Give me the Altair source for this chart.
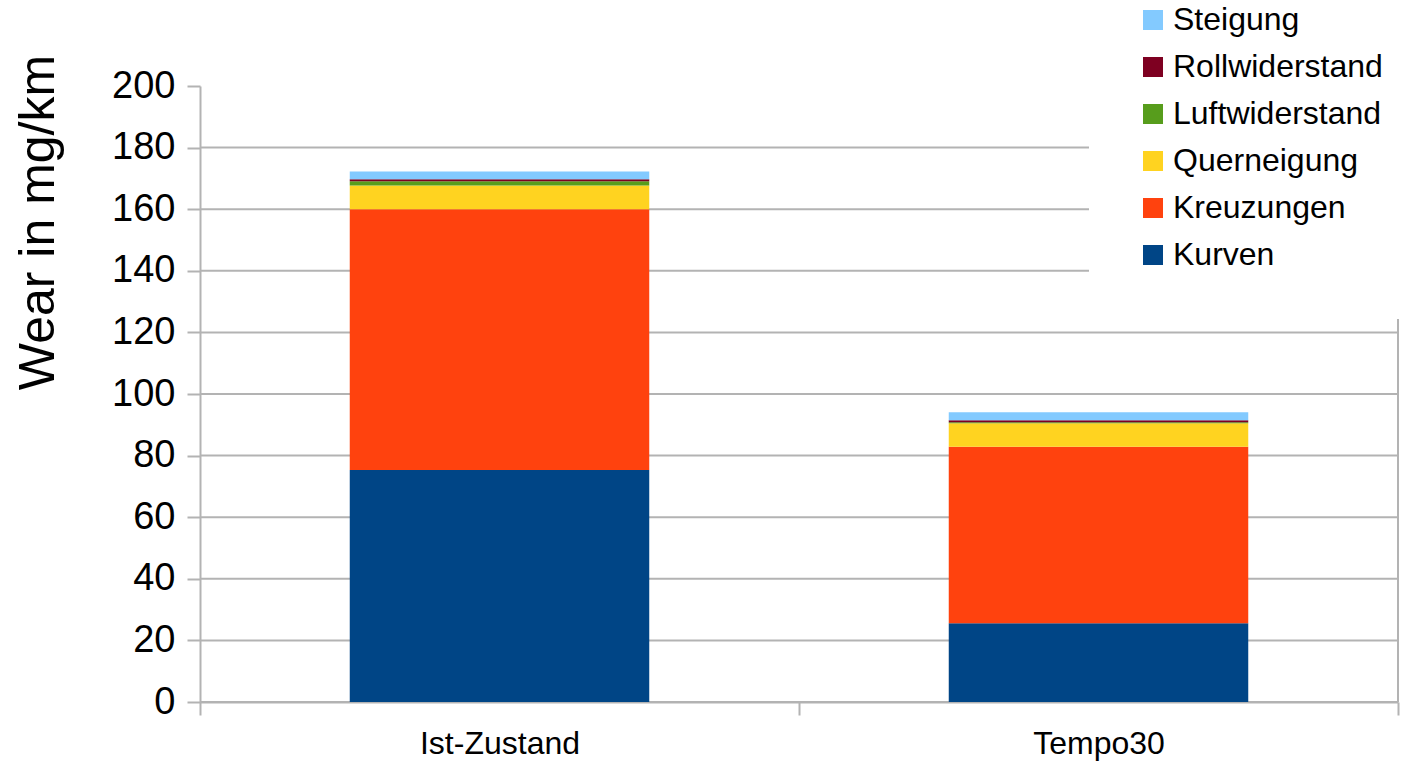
import altair as alt
import pandas as pd

# Scenarios on the x axis
scenarios = ["Ist-Zustand", "Tempo30"]

# Wear contributions in mg/km, listed from the bottom of each stack upwards
components = ["Kurven", "Kreuzungen", "Querneigung", "Luftwiderstand", "Rollwiderstand", "Steigung"]
ist_zustand = [75.3, 84.7, 7.7, 1.4, 0.6, 2.5]
tempo30 = [25.6, 57.3, 7.6, 0.35, 0.65, 2.55]

colors = {
    "Kurven": "#004586",
    "Kreuzungen": "#ff420e",
    "Querneigung": "#ffd320",
    "Luftwiderstand": "#579d1c",
    "Rollwiderstand": "#7e0021",
    "Steigung": "#83caff",
}

grid_values = [0, 20, 40, 60, 80, 100, 120, 140, 160, 180]
y_ticks = [0, 20, 40, 60, 80, 100, 120, 140, 160, 180, 200]

rows = []
for scen, vals in zip(scenarios, [ist_zustand, tempo30]):
    for i, (comp, v) in enumerate(zip(components, vals)):
        rows.append({"Szenario": scen, "Komponente": comp, "Wert": v, "Rang": i})
df = pd.DataFrame(rows)

legend_order = list(reversed(components))

W, H = 1198, 616
FONT = "Liberation Sans"
GRID = "#b3b3b3"

grid = alt.Chart(pd.DataFrame({"g": grid_values})).mark_rule(
    color=GRID, strokeWidth=2
).encode(y=alt.Y("g:Q", scale=alt.Scale(domain=[0, 200])))

bars = alt.Chart(df).mark_bar(strokeWidth=0, width=alt.RelativeBandSize(0.5)).encode(
    x=alt.X(
        "Szenario:N",
        sort=scenarios,
        scale=alt.Scale(paddingInner=0, paddingOuter=0),
        axis=alt.Axis(
            title=None,
            labelAngle=0,
            labelFont=FONT,
            labelFontSize=32,
            labelColor="black",
            labelPadding=13,
            tickBand="extent",
            tickSize=13,
            tickWidth=2,
            tickColor=GRID,
            domainColor=GRID,
            domainWidth=2,
        ),
    ),
    y=alt.Y(
        "sum(Wert):Q",
        stack="zero",
        scale=alt.Scale(domain=[0, 200], nice=False),
        axis=alt.Axis(
            title="Wear in mg/km",
            titleFont=FONT,
            titleFontSize=50,
            titleFontWeight="normal",
            titleColor="black",
            titlePadding=48,
            titleY=136,
            values=y_ticks,
            labelFont=FONT,
            labelFontSize=38,
            labelColor="black",
            labelPadding=12,
            tickSize=13,
            tickWidth=2,
            tickColor=GRID,
            domainColor=GRID,
            domainWidth=2,
            grid=False,
        ),
    ),
    color=alt.Color(
        "Komponente:N",
        scale=alt.Scale(domain=legend_order, range=[colors[c] for c in legend_order]),
        legend=alt.Legend(
            title=None,
            orient="none",
            legendX=889,
            legendY=-130,
            padding=48,
            fillColor="white",
            symbolType="square",
            symbolSize=400,
            symbolStrokeWidth=0,
            labelFont=FONT,
            labelFontSize=32,
            labelColor="black",
            labelOffset=4,
            labelLimit=0,
            rowPadding=15,
        ),
    ),
    order=alt.Order("Rang:Q", sort="ascending"),
)

# right-hand frame line of the plot area
frame = alt.Chart(pd.DataFrame({"r": [0]})).mark_rule(color=GRID, strokeWidth=2).encode(
    x=alt.value(W), y=alt.value(0), y2=alt.value(H)
)

chart = alt.layer(grid, bars, frame).resolve_scale(y="shared").properties(
    width=W,
    height=H,
    autosize=alt.AutoSizeParams(type="none"),
    padding={"left": 200, "top": 86, "right": 8, "bottom": 60},
).configure_view(stroke=None)

chart.save("out.html", embed_options={"renderer": "svg", "actions": False})
